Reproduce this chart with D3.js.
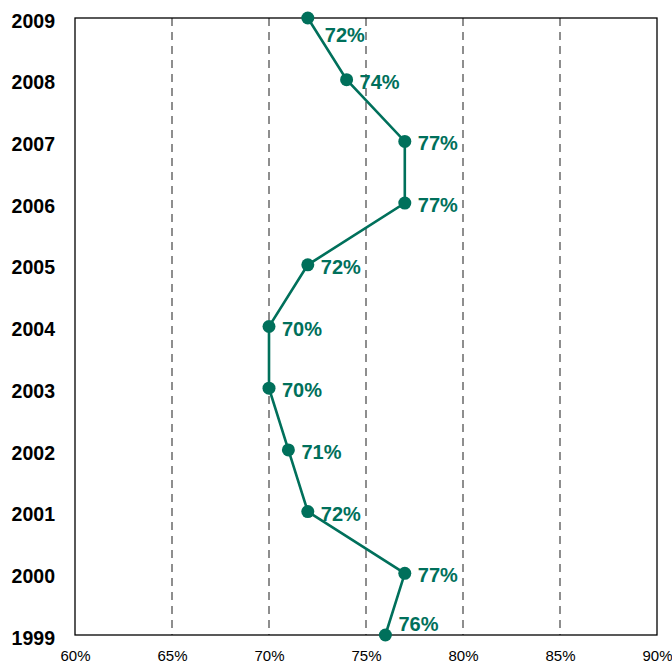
<!DOCTYPE html>
<html>
<head>
<meta charset="utf-8">
<script src="https://cdn.jsdelivr.net/npm/d3@7"></script>
<style>
  body { margin: 0; background: #fff; }
  svg { display: block; font-family: "Liberation Sans", Arial, sans-serif; }
</style>
</head>
<body>
<svg id="chart" width="672" height="666"></svg>
<script>
// data
var years = ['2009', '2008', '2007', '2006', '2005', '2004', '2003', '2002', '2001', '2000', '1999'];
var values = [72, 74, 77, 77, 72, 70, 70, 71, 72, 77, 76];
var xTicks = [60, 65, 70, 75, 80, 85, 90];

var color = '#00705b';
var margin = {left: 75, right: 15, top: 18, bottom: 31};
var width = 672, height = 666;

var svg = d3.select('#chart');

var x = d3.scaleLinear().domain([60, 90]).range([margin.left, width - margin.right]);
var y = d3.scalePoint().domain(years).range([margin.top, height - margin.bottom]);

// dashed grid
svg.append('g').selectAll('line').data(xTicks.slice(1, -1)).enter().append('line')
  .attr('x1', function(d){ return x(d); }).attr('x2', function(d){ return x(d); })
  .attr('y1', margin.top).attr('y2', height - margin.bottom)
  .attr('stroke', '#444').attr('stroke-width', 1.2).attr('stroke-dasharray', '8,6');

// frame
svg.append('rect')
  .attr('x', margin.left).attr('y', margin.top)
  .attr('width', x(90) - x(60)).attr('height', y('1999') - y('2009'))
  .attr('fill', 'none').attr('stroke', '#000').attr('stroke-width', 1.3);

// x axis labels
var xa = svg.append('g').attr('transform', 'translate(0,' + (height - margin.bottom) + ')')
  .call(d3.axisBottom(x).tickValues(xTicks).tickSize(0).tickPadding(15).tickFormat(function(d){ return d + '%'; }));
xa.select('.domain').remove();
xa.selectAll('text').attr('font-size', 15).attr('fill', '#000').attr('font-family', '"Liberation Sans", Arial, sans-serif');

// y axis labels
var ya = svg.append('g').attr('transform', 'translate(' + margin.left + ',0)')
  .call(d3.axisLeft(y).tickSize(0).tickPadding(20));
ya.select('.domain').remove();
ya.selectAll('text').attr('font-size', 19.5).attr('font-weight', 'bold').attr('fill', '#000')
  .attr('dy', '0.47em')
  .attr('font-family', '"Liberation Sans", Arial, sans-serif');

// line
var line = d3.line().x(function(d){ return x(d.v); }).y(function(d){ return y(d.year); });
var pts = years.map(function(yr, i){ return {year: yr, v: values[i]}; });

svg.append('path').datum(pts).attr('d', line)
  .attr('fill', 'none').attr('stroke', color).attr('stroke-width', 2.6);

svg.append('g').selectAll('circle').data(pts).enter().append('circle')
  .attr('cx', function(d){ return x(d.v); })
  .attr('cy', function(d){ return y(d.year); })
  .attr('r', 6.5).attr('fill', color);

// value labels, nudged at the top and bottom edge
svg.append('g').selectAll('text').data(pts).enter().append('text')
  .attr('x', function(d, i){ return x(d.v) + (i === 0 ? 17 : 13); })
  .attr('y', function(d, i){
    var dy = i === 0 ? 24 : (i === pts.length - 1 ? -4 : 9);
    return y(d.year) + dy;
  })
  .attr('font-size', 20).attr('font-weight', 'bold').attr('fill', color)
  .text(function(d){ return d.v + '%'; });
</script>
</body>
</html>
